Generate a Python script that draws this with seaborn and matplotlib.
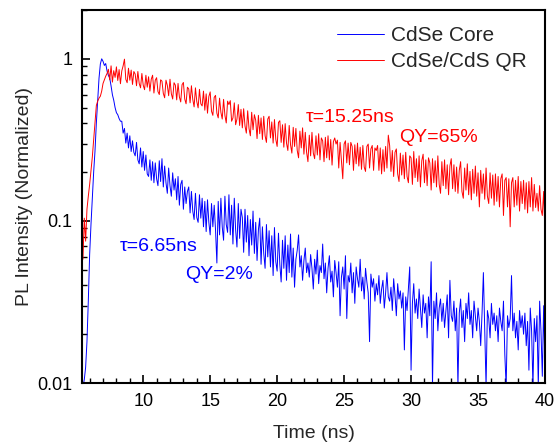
import numpy as np
import pandas as pd
import matplotlib
matplotlib.use("Agg")
import matplotlib.pyplot as plt
from matplotlib.ticker import LogLocator, FixedLocator, MultipleLocator, NullFormatter
import seaborn as sns

# TCSPC channel grid: first channel and channel width (ns)
t_start = 5.4
t_step = 0.1

series_names = ["CdSe Core", "CdSe/CdS QR"]

# normalized PL decay, CdSe core (one value per 0.1 ns channel, rows of 1 ns)
core_intensity = [
    0.0085, 0.0095, 0.0105, 0.0125, 0.018, 0.032, 0.062, 0.095, 0.14, 0.2,
    0.27, 0.4, 0.55, 0.76, 0.93, 1.0, 0.965, 0.91, 0.935, 0.84,
    0.79, 0.76, 0.68, 0.6, 0.555, 0.5, 0.465, 0.452, 0.428, 0.412,
    0.412, 0.348, 0.372, 0.302, 0.348, 0.282, 0.335, 0.268, 0.312, 0.265,
    0.252, 0.305, 0.238, 0.225, 0.282, 0.215, 0.268, 0.205, 0.255, 0.195,
    0.188, 0.238, 0.178, 0.232, 0.172, 0.228, 0.182, 0.165, 0.235, 0.175,
    0.242, 0.162, 0.218, 0.172, 0.148, 0.212, 0.165, 0.142, 0.198, 0.155,
    0.182, 0.135, 0.188, 0.125, 0.168, 0.178, 0.118, 0.162, 0.128, 0.152,
    0.162, 0.112, 0.152, 0.115, 0.102, 0.148, 0.105, 0.098, 0.145, 0.104,
    0.138, 0.092, 0.132, 0.086, 0.135, 0.098, 0.082, 0.128, 0.092, 0.125,
    0.088, 0.055, 0.132, 0.082, 0.138, 0.092, 0.076, 0.142, 0.095, 0.085,
    0.145, 0.082, 0.125, 0.072, 0.138, 0.088, 0.069, 0.128, 0.078, 0.118,
    0.105, 0.064, 0.118, 0.074, 0.108, 0.061, 0.102, 0.071, 0.115, 0.063,
    0.098, 0.057, 0.088, 0.104, 0.054, 0.092, 0.063, 0.051, 0.095, 0.06,
    0.087, 0.052, 0.081, 0.046, 0.091, 0.056, 0.049, 0.084, 0.054, 0.042,
    0.076, 0.051, 0.081, 0.043, 0.071, 0.048, 0.083, 0.045, 0.068, 0.039,
    0.058, 0.066, 0.082, 0.052, 0.061, 0.043, 0.057, 0.068, 0.048, 0.055,
    0.045, 0.062, 0.051, 0.038, 0.058, 0.047, 0.066, 0.041, 0.053, 0.048,
    0.072, 0.044, 0.055, 0.036, 0.051, 0.061, 0.042, 0.049, 0.034, 0.057,
    0.048, 0.039, 0.056, 0.026, 0.045, 0.052, 0.038, 0.061, 0.025, 0.046,
    0.042, 0.055, 0.036, 0.048, 0.031, 0.052, 0.044, 0.039, 0.058, 0.037,
    0.045, 0.033, 0.051, 0.042, 0.036, 0.018, 0.047, 0.039, 0.044, 0.032,
    0.041, 0.035, 0.046, 0.031, 0.038, 0.043, 0.029, 0.036, 0.048, 0.034,
    0.032, 0.039, 0.028, 0.044, 0.035, 0.026, 0.041, 0.033, 0.037, 0.029,
    0.036, 0.016, 0.034, 0.028, 0.038, 0.052, 0.012, 0.031, 0.041, 0.027,
    0.033, 0.025, 0.038, 0.029, 0.022, 0.035, 0.027, 0.031, 0.019, 0.034,
    0.026, 0.056, 0.0095, 0.032, 0.025, 0.036, 0.021, 0.029, 0.033, 0.024,
    0.031, 0.022, 0.028, 0.035, 0.019, 0.043, 0.026, 0.024, 0.032, 0.021,
    0.029, 0.0095, 0.027, 0.033, 0.022, 0.028, 0.018, 0.031, 0.025, 0.036,
    0.023, 0.028, 0.019, 0.032, 0.026, 0.021, 0.029, 0.024, 0.017, 0.027,
    0.048, 0.022, 0.0095, 0.028, 0.025, 0.019, 0.031, 0.023, 0.027, 0.021,
    0.026, 0.018, 0.029, 0.024, 0.021, 0.032, 0.015, 0.0095, 0.026, 0.022,
    0.025, 0.046, 0.021, 0.027, 0.019, 0.024, 0.016, 0.028, 0.022, 0.026,
    0.02, 0.027, 0.017, 0.024, 0.012, 0.029, 0.021, 0.0095, 0.025, 0.018,
    0.026, 0.0095, 0.032, 0.021, 0.011, 0.03, 0.012,
]

# normalized PL decay, CdSe/CdS quantum rods
rod_intensity = [
    0.092, 0.058, 0.104, 0.075, 0.118, 0.142, 0.168, 0.205, 0.248, 0.318,
    0.402, 0.515, 0.548, 0.572, 0.588, 0.632, 0.705, 0.742, 0.781, 0.812,
    0.862, 0.742, 0.905, 0.718, 0.845, 0.768, 0.892, 0.735, 0.858, 0.702,
    0.842, 0.905, 0.995, 0.748, 0.712, 0.875, 0.738, 0.852, 0.695, 0.835,
    0.805, 0.682, 0.835, 0.705, 0.662, 0.812, 0.688, 0.645, 0.792, 0.668,
    0.775, 0.632, 0.748, 0.792, 0.615, 0.738, 0.765, 0.628, 0.602, 0.742,
    0.728, 0.612, 0.575, 0.738, 0.685, 0.592, 0.748, 0.608, 0.565, 0.712,
    0.688, 0.558, 0.705, 0.582, 0.542, 0.692, 0.715, 0.565, 0.528, 0.668,
    0.652, 0.535, 0.682, 0.562, 0.505, 0.662, 0.545, 0.498, 0.648, 0.528,
    0.512, 0.632, 0.482, 0.608, 0.462, 0.585, 0.625, 0.475, 0.448, 0.578,
    0.595, 0.462, 0.432, 0.572, 0.468, 0.425, 0.562, 0.448, 0.402, 0.548,
    0.522, 0.552, 0.412, 0.432, 0.535, 0.392, 0.425, 0.522, 0.388, 0.488,
    0.375, 0.492, 0.385, 0.348, 0.478, 0.372, 0.335, 0.468, 0.365, 0.452,
    0.418, 0.322, 0.448, 0.345, 0.432, 0.318, 0.442, 0.335, 0.305, 0.425,
    0.442, 0.325, 0.408, 0.302, 0.422, 0.318, 0.288, 0.405, 0.415, 0.305,
    0.392, 0.285, 0.398, 0.302, 0.272, 0.388, 0.295, 0.262, 0.378, 0.288,
    0.372, 0.272, 0.245, 0.358, 0.282, 0.375, 0.258, 0.352, 0.265, 0.232,
    0.338, 0.252, 0.352, 0.262, 0.242, 0.335, 0.255, 0.345, 0.238, 0.325,
    0.312, 0.232, 0.328, 0.245, 0.335, 0.238, 0.318, 0.221, 0.308, 0.325,
    0.298, 0.315, 0.212, 0.305, 0.235, 0.182, 0.298, 0.312, 0.228, 0.302,
    0.222, 0.305, 0.288, 0.205, 0.295, 0.225, 0.302, 0.218, 0.285, 0.208,
    0.292, 0.215, 0.202, 0.288, 0.298, 0.212, 0.278, 0.292, 0.205, 0.282,
    0.272, 0.292, 0.205, 0.282, 0.195, 0.275, 0.202, 0.288, 0.212, 0.338,
    0.292, 0.202, 0.272, 0.188, 0.265, 0.278, 0.195, 0.175, 0.262, 0.192,
    0.255, 0.182, 0.265, 0.188, 0.172, 0.252, 0.245, 0.168, 0.268, 0.185,
    0.242, 0.175, 0.252, 0.162, 0.235, 0.258, 0.172, 0.238, 0.165, 0.245,
    0.228, 0.155, 0.242, 0.172, 0.235, 0.162, 0.252, 0.168, 0.148, 0.232,
    0.165, 0.238, 0.158, 0.222, 0.145, 0.218, 0.242, 0.158, 0.222, 0.152,
    0.215, 0.148, 0.205, 0.232, 0.152, 0.138, 0.212, 0.155, 0.225, 0.145,
    0.202, 0.135, 0.208, 0.148, 0.218, 0.142, 0.198, 0.122, 0.205, 0.148,
    0.195, 0.136, 0.212, 0.142, 0.128, 0.198, 0.138, 0.192, 0.125, 0.195,
    0.132, 0.188, 0.122, 0.182, 0.195, 0.108, 0.178, 0.185, 0.122, 0.182,
    0.092, 0.172, 0.185, 0.122, 0.178, 0.125, 0.188, 0.115, 0.175, 0.128,
    0.178, 0.118, 0.172, 0.112, 0.175, 0.122, 0.185, 0.115, 0.168, 0.121,
    0.148, 0.115, 0.165, 0.118, 0.108, 0.152, 0.082,
]

x_ticks = [10, 15, 20, 25, 30, 35, 40]
y_ticks = [0.01, 0.1, 1]
y_tick_labels = ["0.01", "0.1", "1"]

time_ns = np.round(t_start + t_step * np.arange(len(core_intensity)), 2)
df = pd.DataFrame({
    "time": np.concatenate([time_ns, time_ns]),
    "intensity": np.concatenate([core_intensity, rod_intensity]),
    "sample": [series_names[0]] * len(core_intensity) + [series_names[1]] * len(rod_intensity),
})

sns.set_style("ticks")
plt.rcParams["font.family"] = ["Liberation Sans", "DejaVu Sans"]

fig = plt.figure(figsize=(5.56, 4.43), dpi=100)
ax = fig.add_axes([0.1475, 0.1354, 0.8327, 0.8420])

palette = {series_names[0]: "#0000ff", series_names[1]: "#ff0000"}
for name in series_names:
    sns.lineplot(data=df[df["sample"] == name], x="time", y="intensity",
                 color=palette[name], linewidth=0.7, estimator=None,
                 label=name, ax=ax)

ax.set_yscale("log")
ax.set_xlim(5.43, 40)
ax.set_ylim(0.01, 2.0)

ax.xaxis.set_major_locator(FixedLocator(x_ticks))
ax.xaxis.set_minor_locator(MultipleLocator(1))
ax.yaxis.set_major_locator(FixedLocator(y_ticks))
ax.set_yticklabels(y_tick_labels)
ax.yaxis.set_minor_locator(LogLocator(base=10, subs=np.arange(2, 10)))
ax.yaxis.set_minor_formatter(NullFormatter())

ax.tick_params(which="both", direction="in", top=False, right=False,
               colors="black", labelsize=13, pad=7)
ax.tick_params(which="major", length=6, width=1.2)
ax.tick_params(which="minor", length=3.5, width=1.0)
for sp in ax.spines.values():
    sp.set_linewidth(1.5)
    sp.set_color("black")

ax.set_xlabel("Time (ns)", fontsize=14, labelpad=11)
ax.set_ylabel("PL Intensity (Normalized)", fontsize=14, labelpad=3)

ax.text(22.12, 0.436, "τ=15.25ns", color="#ff0000", fontsize=14, va="center", ha="left")
ax.text(29.08, 0.328, "QY=65%", color="#ff0000", fontsize=14, va="center", ha="left")
ax.text(8.27, 0.070, "τ=6.65ns", color="#0000ff", fontsize=14, va="center", ha="left")
ax.text(13.14, 0.0469, "QY=2%", color="#0000ff", fontsize=14, va="center", ha="left")

ax.legend(loc="upper right", bbox_to_anchor=(0.961, 0.957), frameon=False,
          fontsize=15, handlelength=2.25, handletextpad=0.35, labelspacing=0.35,
          borderaxespad=0.0, borderpad=0.0)

fig.savefig("out.png", dpi=100)
